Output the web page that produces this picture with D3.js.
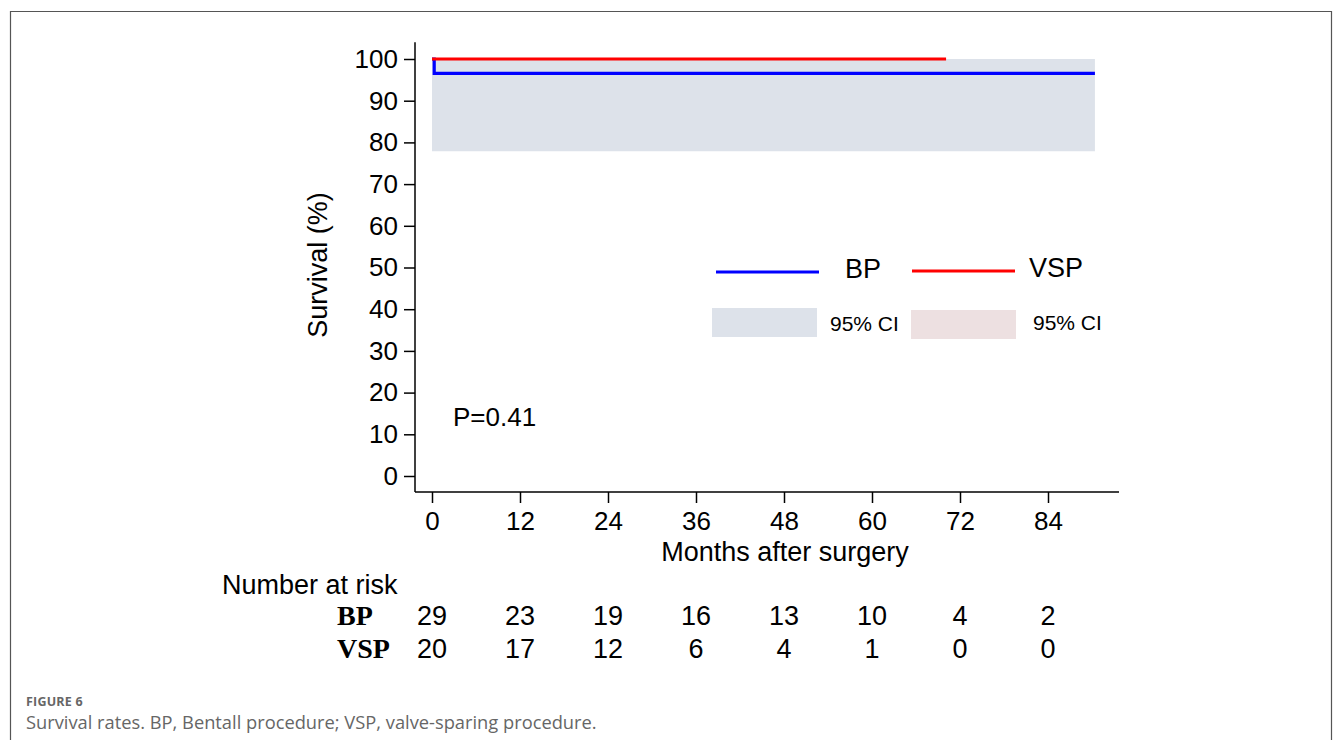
<!DOCTYPE html>
<html><head><meta charset="utf-8">
<script src="https://cdn.jsdelivr.net/npm/d3@7"></script>
<style>
html,body{margin:0;padding:0;background:#fff;}
svg{display:block;}
</style></head>
<body>
<svg id="c" width="1335" height="740"></svg>
<script>
// ---- data ----
const xTicks = [0, 12, 24, 36, 48, 60, 72, 84];
const yTicks = [0, 10, 20, 30, 40, 50, 60, 70, 80, 90, 100];
const bpTime = [0, 0.3, 90.4];
const bpSurv = [100, 96.55, 96.55];
const bpCITime = [0, 90.4];
const bpCILower = [77.9, 77.9];
const bpCIUpper = [100, 100];
const vspTime = [0, 70.1];
const vspSurv = [100, 100];
const riskGroups = ["BP", "VSP"];
const riskBP = [29, 23, 19, 16, 13, 10, 4, 2];
const riskVSP = [20, 17, 12, 6, 4, 1, 0, 0];
const pValue = "P=0.41";

const svg = d3.select("#c");
const FONT = "'Liberation Sans', Arial, Helvetica, sans-serif";
const CAP = "'Open Sans', 'Noto Sans', sans-serif";

// frame
svg.append("path").attr("d","M10.5,745 V11.5 H1331.5 V745")
  .attr("fill","none").attr("stroke","#555").attr("stroke-width",1.2);

const x = d3.scaleLinear().domain([0, 84]).range([432, 1048]);
const y = d3.scaleLinear().domain([0, 100]).range([476, 59]);

// CI band
const area = d3.area().x((d,i)=>x(bpCITime[i])).y0((d,i)=>y(bpCILower[i])).y1((d,i)=>y(bpCIUpper[i]));
svg.append("path").datum(bpCITime).attr("d", area).attr("fill","#dde2ea");

// survival steps
const line = d3.line().curve(d3.curveStepAfter);
svg.append("path").datum(bpTime.map((t,i)=>[x(t), y(bpSurv[i])]))
  .attr("d", line).attr("fill","none").attr("stroke","#0000ff").attr("stroke-width",3.2);
svg.append("path").datum(vspTime.map((t,i)=>[x(t), y(vspSurv[i])]))
  .attr("d", line).attr("fill","none").attr("stroke","#ff0000").attr("stroke-width",3.2);

// y axis
const yAxis = svg.append("g").attr("transform","translate(415,0)")
  .call(d3.axisLeft(y).tickValues(yTicks).tickSize(11).tickPadding(6).tickSizeOuter(0));
yAxis.select(".domain").attr("d", `M0,${y(104)} V${492}`).attr("stroke","#000").attr("stroke-width",1.5);
yAxis.selectAll(".tick line").attr("stroke","#000").attr("stroke-width",1.5);
yAxis.selectAll(".tick text").attr("font-family",FONT).attr("font-size",26).attr("fill","#000");

// x axis
const xAxis = svg.append("g").attr("transform","translate(0,492)")
  .call(d3.axisBottom(x).tickValues(xTicks).tickSize(11).tickPadding(9).tickSizeOuter(0));
xAxis.select(".domain").attr("d", `M415,0 H1119`).attr("stroke","#000").attr("stroke-width",1.5);
xAxis.selectAll(".tick line").attr("stroke","#000").attr("stroke-width",1.5);
xAxis.selectAll(".tick text").attr("font-family",FONT).attr("font-size",26).attr("fill","#000");

// axis titles
svg.append("text").attr("transform","translate(327,265) rotate(-90)")
  .attr("text-anchor","middle").attr("font-family",FONT).attr("font-size",27).text("Survival (%)");
svg.append("text").attr("x",785).attr("y",561).attr("text-anchor","middle")
  .attr("font-family",FONT).attr("font-size",27).text("Months after surgery");

// p value
svg.append("text").attr("x",453).attr("y",426).attr("font-family",FONT).attr("font-size",26).text(pValue);

// legend
svg.append("line").attr("x1",716).attr("x2",819).attr("y1",272).attr("y2",272).attr("stroke","#0000ff").attr("stroke-width",3);
svg.append("text").attr("x",845).attr("y",278).attr("font-family",FONT).attr("font-size",27).text(riskGroups[0]);
svg.append("line").attr("x1",912).attr("x2",1015).attr("y1",271).attr("y2",271).attr("stroke","#ff0000").attr("stroke-width",3);
svg.append("text").attr("x",1029).attr("y",277).attr("font-family",FONT).attr("font-size",27).text(riskGroups[1]);
svg.append("rect").attr("x",712).attr("y",308).attr("width",105).attr("height",29).attr("fill","#dde2ea");
svg.append("text").attr("x",830).attr("y",331).attr("font-family",FONT).attr("font-size",21).text("95% CI");
svg.append("rect").attr("x",911).attr("y",310).attr("width",105).attr("height",29).attr("fill","#ede0e1");
svg.append("text").attr("x",1033).attr("y",330).attr("font-family",FONT).attr("font-size",21).text("95% CI");

// number at risk
svg.append("text").attr("x",222).attr("y",594).attr("font-family",FONT).attr("font-size",27).text("Number at risk");
const rows = [riskBP, riskVSP];
const rowY = [625, 657.5];
rows.forEach((r,k)=>{
  svg.append("text").attr("x",337).attr("y",rowY[k]).attr("font-family","'Liberation Serif', 'Times New Roman', serif")
    .attr("font-weight","bold").attr("font-size",28).text(riskGroups[k]);
  svg.selectAll(null).data(r).enter().append("text")
    .attr("x",(d,i)=>x(xTicks[i])).attr("y",rowY[k]).attr("text-anchor","middle")
    .attr("font-family",FONT).attr("font-size",27).text(d=>d);
});

// caption
svg.append("text").attr("x",26).attr("y",706).attr("font-family",CAP)
  .attr("font-size",12.5).attr("font-weight","bold").attr("letter-spacing",0.2).attr("fill","#666").text("FIGURE 6");
svg.append("text").attr("x",26).attr("y",729).attr("font-family",CAP)
  .attr("font-size",18.3).attr("fill","#666").text("Survival rates. BP, Bentall procedure; VSP, valve-sparing procedure.");
</script>
</body></html>
